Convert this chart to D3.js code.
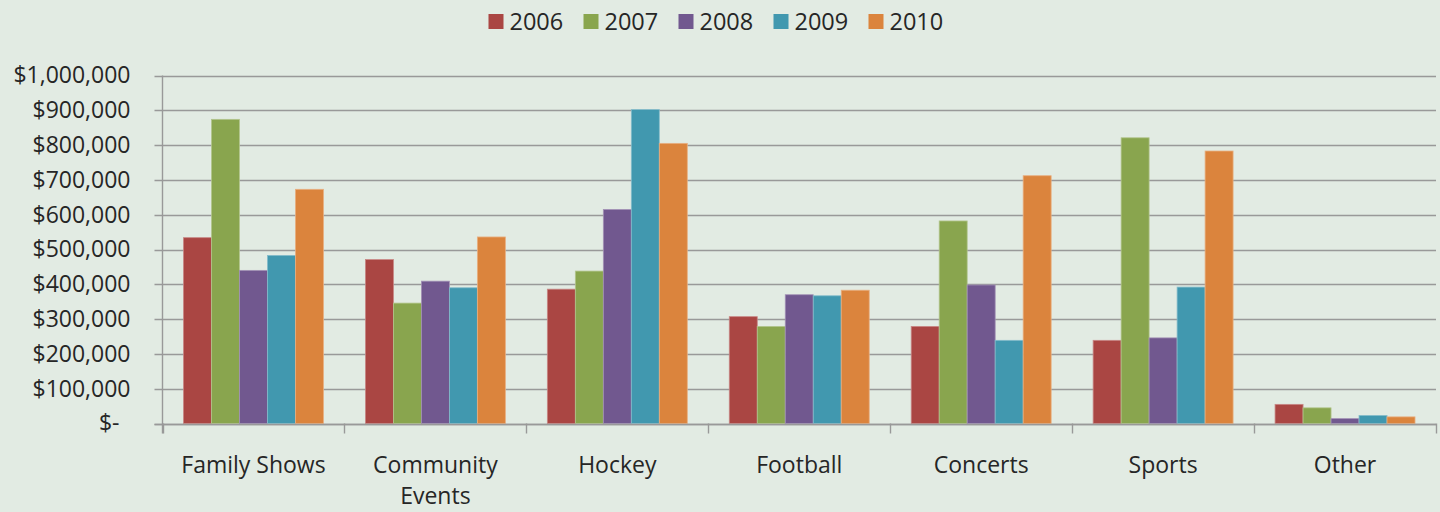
<!DOCTYPE html>
<html>
<head>
<meta charset="utf-8">
<script src="https://cdn.jsdelivr.net/npm/d3@7"></script>
<style>
  html, body { margin: 0; padding: 0; background: #E2EBE3; }
  svg { display: block; }
  text { font-family: "Open Sans", "Liberation Sans", sans-serif; fill: #262626; }
</style>
</head>
<body>
<svg id="chart" width="1440" height="512"></svg>
<script>
const categories = ["Family Shows", "Community Events", "Hockey", "Football", "Concerts", "Sports", "Other"];
const years = ["2006", "2007", "2008", "2009", "2010"];
const values2006 = [534000, 471000, 386000, 307000, 279000, 239000, 55000];
const values2007 = [874000, 346000, 438000, 279000, 582000, 821000, 45000];
const values2008 = [440000, 409000, 615000, 370000, 398000, 246000, 14000];
const values2009 = [483000, 390000, 902000, 367000, 239000, 392000, 23000];
const values2010 = [673000, 536000, 805000, 383000, 712000, 783000, 19000];
const yTicks = [0, 100000, 200000, 300000, 400000, 500000, 600000, 700000, 800000, 900000, 1000000];
const colors = ["#AA4643", "#89A54E", "#71588F", "#4198AF", "#DB843D"];

const seriesValues = [values2006, values2007, values2008, values2009, values2010];
const data = categories.map((c, i) => ({
  category: c,
  values: years.map((y, j) => ({ year: y, value: seriesValues[j][i], color: colors[j] }))
}));

const W = 1440, H = 512;
const margin = { top: 75.5, right: 4, bottom: 88.5, left: 162.5 };
const svg = d3.select("#chart");

svg.append("rect").attr("width", W).attr("height", H).attr("fill", "#E2EBE3");

const x0 = d3.scaleBand()
  .domain(categories)
  .range([margin.left, W - margin.right])
  .paddingInner(42 / 182)
  .paddingOuter(21 / 182);
const x1 = d3.scaleBand().domain(years).range([0, x0.bandwidth()]);
const y = d3.scaleLinear().domain([0, 1000000]).range([H - margin.bottom, margin.top]);

// gridlines
const grid = svg.append("g");
grid.selectAll("line")
  .data(yTicks)
  .join("line")
  .attr("x1", margin.left - 8)
  .attr("x2", W - margin.right)
  .attr("y1", d => Math.round(y(d)) + 0.5)
  .attr("y2", d => Math.round(y(d)) + 0.5)
  .attr("stroke", "#999999")
  .attr("stroke-width", 1.4);

// y axis
const fmt = d3.format(",");
const yAxis = d3.axisLeft(y)
  .tickValues(yTicks)
  .tickSize(0)
  .tickPadding(32)
  .tickFormat(d => d === 0 ? "$-" : "$" + fmt(d));
const gy = svg.append("g")
  .attr("transform", `translate(${margin.left},0)`)
  .call(yAxis);
gy.select(".domain").remove();
gy.selectAll("text")
  .attr("font-size", 23)
  .attr("fill", "#262626")
  .attr("font-family", "'Open Sans', sans-serif")
  .attr("dx", d => d === 0 ? -11 : 0);

// vertical axis line
svg.append("line")
  .attr("x1", margin.left).attr("x2", margin.left)
  .attr("y1", y(1000000)).attr("y2", y(0) + 10)
  .attr("stroke", "#999999").attr("stroke-width", 1.4);

// bars
const groups = svg.append("g")
  .selectAll("g")
  .data(data)
  .join("g")
  .attr("transform", d => `translate(${x0(d.category)},0)`);
groups.selectAll("rect")
  .data(d => d.values)
  .join("rect")
  .attr("x", d => x1(d.year))
  .attr("y", d => y(d.value))
  .attr("width", x1.bandwidth())
  .attr("height", d => y(0) - y(d.value))
  .attr("fill", d => d.color)
  .attr("stroke", d => d3.interpolateRgb(d.color, "#ffffff")(0.35))
  .attr("stroke-width", 0.8);

// x axis (category ticks)
const step = x0.step();
const boundaries = d3.range(categories.length + 1).map(i => margin.left + i * step);
svg.append("g").selectAll("line")
  .data(boundaries)
  .join("line")
  .attr("x1", d => Math.round(d) + 0.5).attr("x2", d => Math.round(d) + 0.5)
  .attr("y1", y(0)).attr("y2", y(0) + 10)
  .attr("stroke", "#999999").attr("stroke-width", 1.4);
svg.append("line")
  .attr("x1", margin.left - 8).attr("x2", W - margin.right)
  .attr("y1", Math.round(y(0)) + 0.5).attr("y2", Math.round(y(0)) + 0.5)
  .attr("stroke", "#999999").attr("stroke-width", 1.4);

// category labels (wrapped)
const labelG = svg.append("g");
categories.forEach(c => {
  const cx = x0(c) + x0.bandwidth() / 2;
  const t = labelG.append("text")
    .attr("x", cx)
    .attr("y", 473)
    .attr("text-anchor", "middle")
    .attr("font-size", 23);
  const words = c.split(" ");
  let line = [];
  let tspan = t.append("tspan").attr("x", cx).attr("dy", 0);
  words.forEach(w => {
    line.push(w);
    tspan.text(line.join(" "));
    if (tspan.node().getComputedTextLength() > 168 && line.length > 1) {
      line.pop();
      tspan.text(line.join(" "));
      line = [w];
      tspan = t.append("tspan").attr("x", cx).attr("dy", 31).text(w);
    }
  });
});

// legend
const legendItemW = 95;
const legendTotal = legendItemW * (years.length - 1) + 15 + 6 + 52;
const legendStart = 715 - legendTotal / 2;
const legend = svg.append("g");
years.forEach((yr, i) => {
  const lx = legendStart + i * legendItemW;
  legend.append("rect")
    .attr("x", lx).attr("y", 14)
    .attr("width", 15).attr("height", 15)
    .attr("fill", colors[i]);
  legend.append("text")
    .attr("x", lx + 21).attr("y", 29.5)
    .attr("font-size", 23.5)
    .text(yr);
});
</script>
</body>
</html>
